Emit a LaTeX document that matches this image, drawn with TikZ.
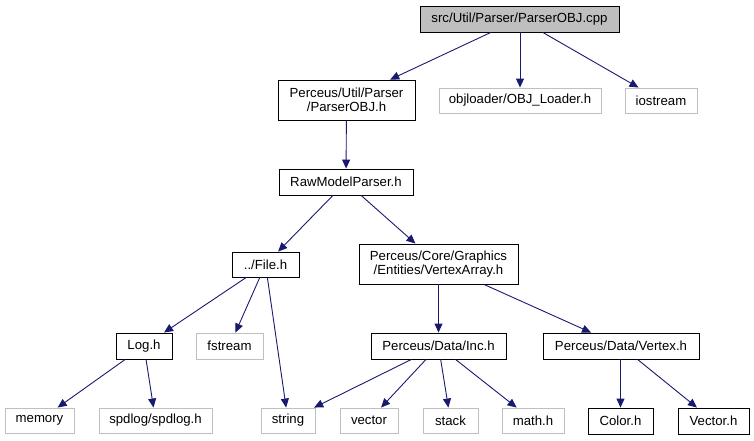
\documentclass[tikz,border=0pt]{standalone}
\usepackage{fontspec}
\setmainfont{Liberation Sans}
\usetikzlibrary{arrows.meta}
\definecolor{edgeblue}{HTML}{191970}
\definecolor{boxgray}{HTML}{BFBFBF}
\tikzset{
  x=1pt,y=-1pt,
  fbox/.style={draw=black,line width=0.9pt,inner sep=0pt,align=center,font=\fontsize{13.2}{13.6}\selectfont},
  gbox/.style={fbox,draw=boxgray},
  rootbox/.style={fbox,fill=boxgray},
  edge/.style={draw=edgeblue,line width=0.9pt,-{Triangle[length=9pt,width=8pt]}},
}
\newcommand{\bx}[7]{\node[#1,minimum width={#5-#3},minimum height={#6-#4}] (#2) at ({(#3+#5)/2},{(#4+#6)/2}) {#7};}
\begin{document}
\begin{tikzpicture}
\useasboundingbox (0,0) rectangle (754,440);
\bx{rootbox}{root}{420}{6}{619}{32}{src/Util/Parser/ParserOBJ.cpp}
\bx{fbox}{pobj}{278}{80}{415}{120}{Perceus/Util/Parser\\/ParserOBJ.h}
\bx{gbox}{objl}{439}{88}{601}{113}{objloader/OBJ\_Loader.h}
\bx{gbox}{iost}{625}{88}{697}{113}{iostream}
\bx{fbox}{raw}{279}{169}{413}{195}{RawModelParser.h}
\bx{fbox}{file}{232}{252}{299}{277}{../File.h}
\bx{fbox}{varr}{359}{244}{518}{284}{Perceus/Core/Graphics\\/Entities/VertexArray.h}
\bx{fbox}{log}{116}{333}{172}{359}{Log.h}
\bx{gbox}{fstr}{196}{333}{263}{359}{fstream}
\bx{fbox}{inc}{371}{333}{506}{359}{Perceus/Data/Inc.h}
\bx{fbox}{vtx}{543}{333}{699}{359}{Perceus/Data/Vertex.h}
\bx{gbox}{mem}{5}{408}{74}{433}{memory}
\bx{gbox}{spd}{99}{408}{212}{433}{spdlog/spdlog.h}
\bx{gbox}{str}{261}{408}{315}{433}{string}
\bx{gbox}{vec}{340}{408}{398}{433}{vector}
\bx{gbox}{stk}{423}{408}{478}{433}{stack}
\bx{gbox}{math}{502}{408}{564}{433}{math.h}
\bx{fbox}{col}{588}{408}{653}{434}{Color.h}
\bx{fbox}{vecr}{678}{408}{749}{434}{Vector.h}
\draw[edge] (root) -- (pobj);
\draw[edge] (root.south -| objl) -- (objl);
\draw[edge] (root) -- (iost);
\draw[edge] (pobj) -- (raw);
\draw[edge] (raw) -- (file);
\draw[edge] (raw) -- (varr);
\draw[edge] (file) -- (log);
\draw[edge] (file) -- (fstr);
\draw[edge] (file) -- (str);
\draw[edge] (log) -- (mem);
\draw[edge] (log) -- (spd);
\draw[edge] (varr.south -| inc) -- (inc);
\draw[edge] (varr) -- (vtx);
\draw[edge] (inc) -- (str);
\draw[edge] (inc) -- (vec);
\draw[edge] (inc) -- (stk);
\draw[edge] (inc) -- (math);
\draw[edge] (vtx.south -| col) -- (col);
\draw[edge] (vtx) -- (vecr);
\end{tikzpicture}
\end{document}
